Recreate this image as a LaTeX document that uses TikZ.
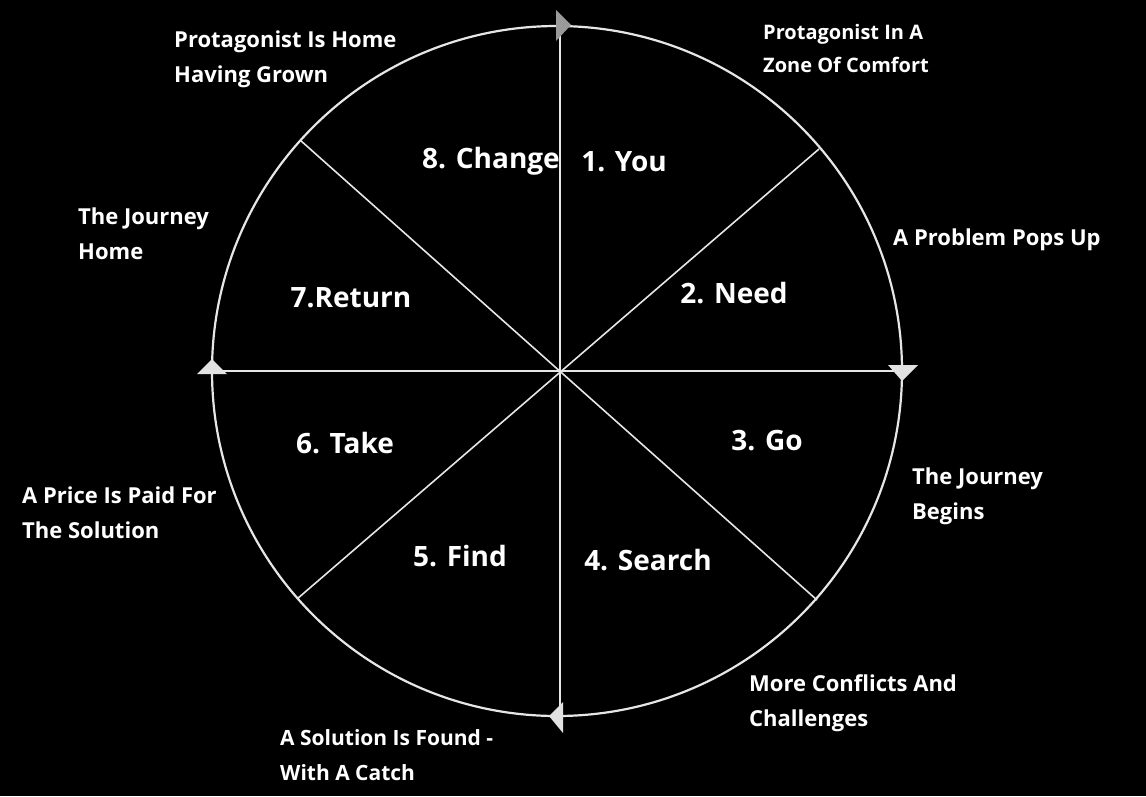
\documentclass[tikz,border=0pt]{standalone}
\usepackage{fontspec}
\setmainfont{Open Sans}
\usepackage{xcolor}
\definecolor{rim}{HTML}{E6E6E6}
\definecolor{tipgray}{HTML}{9A9A9A}
\definecolor{tiplight}{HTML}{E2E2E2}
\newcommand{\stage}[4]{\node[stagetext] (#1) at (#2,#3) {#4}}
\newcommand{\event}[5][]{\node[eventtext,#1] (#2) at (#3,#4) {#5}}
\tikzset{
	stagetext/.style={text=white, font=\bfseries\fontsize{28}{34}\selectfont, inner sep=0pt},
	eventtext/.style={text=white, font=\bfseries\fontsize{22}{35}\selectfont, align=left, anchor=base west, inner sep=0pt},
	smallevent/.style={font=\bfseries\fontsize{20}{33}\selectfont},
	spoke/.style={draw=rim, line width=1.6pt}
}

\begin{document}
\begin{tikzpicture}[x=1pt,y=-1pt]
	\fill[black] (0,0) rectangle (1146,796);
	\useasboundingbox (0,0) rectangle (1146,796);
	\coordinate (O) at (560,371);
	\coordinate (N) at (560,25);
	\coordinate (S) at (560,716);
	\coordinate (E) at (903,371);
	\coordinate (W) at (212,371);
	\coordinate (NE) at (819,149);
	\coordinate (SW) at (297,599);
	\coordinate (NW) at (300,140);
	\coordinate (SE) at (817,600);
	\draw[rim, line width=2.2pt] (557,371) circle (345);
	\draw[spoke] (N) -- (S);
	\draw[spoke] (W) -- (E);
	\draw[spoke] (NE) -- (SW);
	\draw[spoke] (NW) -- (SE);
	% direction marks
	\fill[tipgray] (556,10) -- (571,25) -- (556,41) -- cycle;
	\fill[tiplight] (888,365) -- (918,365) -- (902,381) -- cycle;
	\fill[tiplight] (563,702) -- (549,716) -- (563,733) -- cycle;
	\fill[tiplight] (197,374) -- (212,359) -- (227,374) -- cycle;
	\stage{you}{624}{162}{1. You};
	\stage{need}{734}{293}{2. Need};
	\stage{go}{767}{441}{3. Go};
	\stage{search}{648}{560}{4. Search};
	\stage{find}{460}{556}{5. Find};
	\stage{take}{345}{443}{6. Take};
	\stage{return}{351}{298}{7.Return};
	\stage{change}{491}{161}{8. Change};
	% last-line baselines
	\event[smallevent]{comfort}{763}{72}{Protagonist In A\\Zone Of Comfort};
	\event{problem}{893}{245}{A Problem Pops Up};
	\event{begins}{912}{519}{The Journey\\Begins};
	\event{conflicts}{749}{726}{More Conflicts And\\Challenges};
	\event[font=\bfseries\fontsize{21}{35}\selectfont]{found}{280}{780}{A Solution Is Found -\\With A Catch};
	\event{price}{22}{538}{A Price Is Paid For\\The Solution};
	\event{home}{78}{259}{The Journey\\Home};
	\event{grown}{174}{82}{Protagonist Is Home\\Having Grown};
\end{tikzpicture}
\end{document}
